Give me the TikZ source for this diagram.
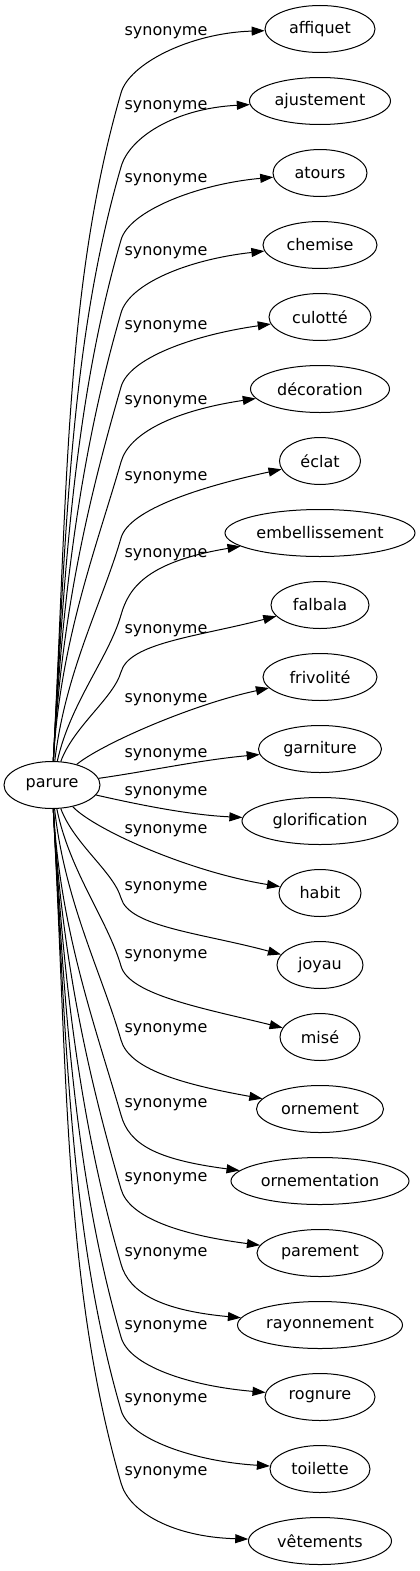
\documentclass[tikz,border=0pt]{standalone}
\usepackage{fontspec}
\setmainfont{DejaVu Sans}
\usetikzlibrary{shapes.geometric,arrows.meta,calc}

\begin{document}
\begin{tikzpicture}[x=1pt,y=-1pt,
	word/.style={draw, ellipse, line width=1pt, minimum height=47pt, inner sep=0pt,
		font=\fontsize{16}{19}\selectfont},
	rel/.style={inner sep=0pt, font=\fontsize{16}{19}\selectfont},
	link/.style={line width=1pt, -{Triangle[length=13pt,width=9pt]}}]
	
	% ---- (A) layout parameters ----
	\def\tx{320}   % column of the synonyms
	\def\ty{29}    % first synonym
	\def\dy{72}    % spacing of the synonyms
	\def\lx{166}   % column of the edge labels
	\def\kx{121}   % where the edges bend
	
	\useasboundingbox (0,0) rectangle (420,1571);
	
	% ---- (B) nodes ----
	\node[word, minimum width=96pt] (parure) at (52,785) {parure};
	
	\foreach \i/\w/\ww in {0/affiquet/110, 1/ajustement/141, 2/atours/94,
		3/chemise/114, 4/culotté/102, 5/décoration/139, 6/éclat/81,
		7/embellissement/190, 8/falbala/98, 9/frivolité/114, 10/garniture/123,
		11/glorification/156, 12/habit/82, 13/joyau/86, 14/misé/80,
		15/ornement/127, 16/ornementation/178, 17/parement/126,
		18/rayonnement/165, 19/rognure/110, 20/toilette/100, 21/vêtements/143}{
		\node[word, minimum width=\ww pt] (t\i) at (\tx,{\ty+\dy*\i}) {\w};
	}
	
	% ---- (C) edge labels ----
	\foreach \i/\ly in {0/33, 1/107, 2/180, 3/253, 4/327, 5/402, 6/478, 7/555,
		8/631, 9/700, 10/755, 11/793, 12/831, 13/888, 14/956, 15/1030,
		16/1105, 17/1179, 18/1254, 19/1327, 20/1400, 21/1473}{
		\node[rel] (l\i) at (\lx,\ly) {synonyme};
	}
	
	% ---- (D) edges going up ----
	\foreach \i/\by in {0/93, 1/167, 2/240, 3/313, 4/387, 5/462, 6/538, 7/615, 8/672}{
		% steep part from parure to the bend
		\pgfmathsetmacro{\vv}{762-\by}
		\pgfmathsetmacro{\ax}{54+0.02*\vv+26*max(0,1-\vv/300)}
		\pgfmathsetmacro{\ay}{762-0.4*\vv}
		\pgfmathsetmacro{\bx}{\kx-0.084*\vv}
		\pgfmathsetmacro{\bz}{\by+0.29*\vv}
		\pgfmathsetmacro{\off}{4+3.5*\i}
		% then out to the synonym
		\draw[link] (parure) .. controls (\ax,\ay) and (\bx,\bz) .. (\kx,\by)
		.. controls (\kx+8,\by-29) and ($(t\i.west)+(-75,\off)$) .. (t\i);
	}
	
	% ---- (E) edges near the middle ----
	\draw[link] (parure) .. controls (100,745) and (190,705) .. (t9);
	\draw[link] (parure) .. controls (150,771) and (200,760) .. (t10);
	\draw[link] (parure) .. controls (140,805) and (190,815) .. (t11);
	\draw[link] (parure) .. controls (95,830) and (190,872) .. (t12);
	
	% ---- (F) edges going down ----
	\foreach \i/\by in {13/898, 14/966, 15/1040, 16/1115, 17/1189, 18/1264,
		19/1337, 20/1410, 21/1483}{
		\pgfmathsetmacro{\j}{21-\i}
		\pgfmathsetmacro{\vv}{\by-808}
		\pgfmathsetmacro{\ax}{54+0.02*\vv+26*max(0,1-\vv/300)}
		\pgfmathsetmacro{\ay}{808+0.4*\vv}
		\pgfmathsetmacro{\bx}{\kx-0.084*\vv}
		\pgfmathsetmacro{\bz}{\by-0.29*\vv}
		\pgfmathsetmacro{\off}{4+3.5*\j}
		\draw[link] (parure) .. controls (\ax,\ay) and (\bx,\bz) .. (\kx,\by)
		.. controls (\kx+8,\by+29) and ($(t\i.west)+(-75,-\off)$) .. (t\i);
	}
	
\end{tikzpicture}
\end{document}
